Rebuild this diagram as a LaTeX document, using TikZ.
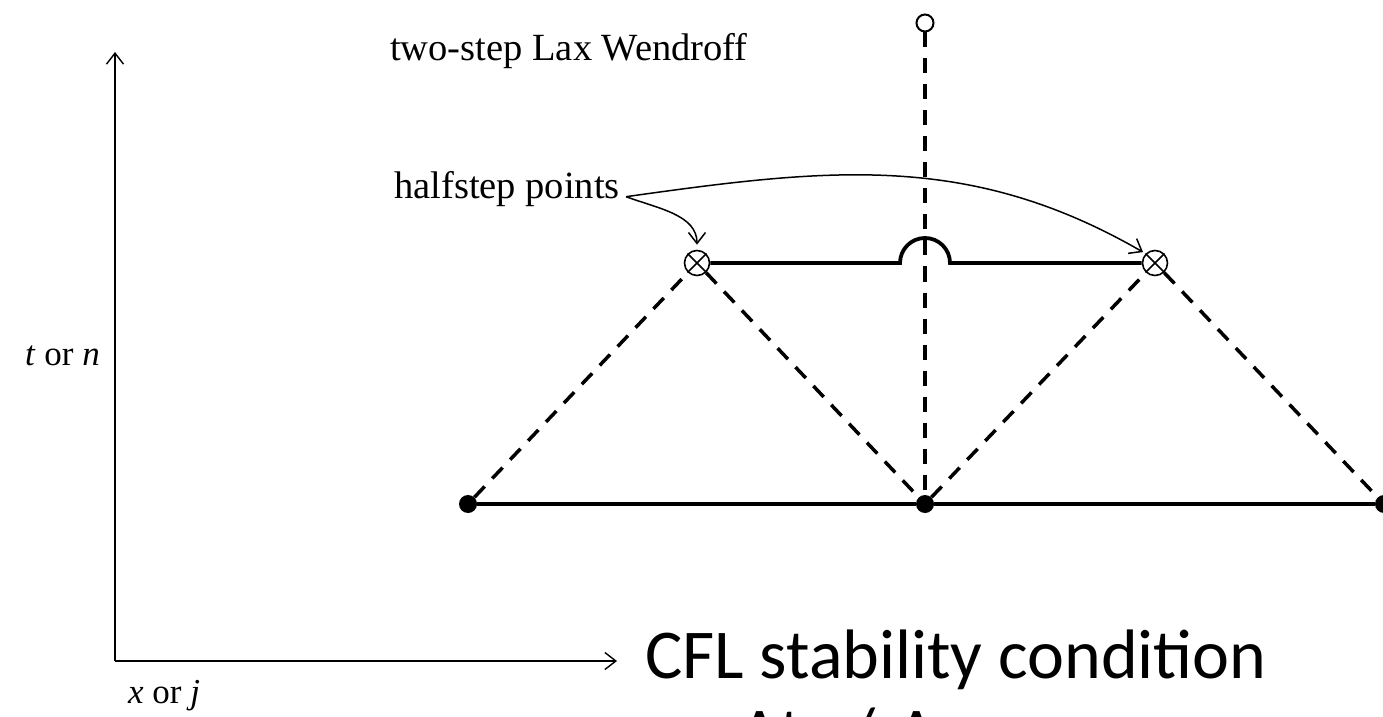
\documentclass[tikz,border=0pt]{standalone}
\usepackage{fontspec}
\setmainfont{Liberation Serif}
\newfontfamily\cflfont{Carlito}
\usetikzlibrary{arrows.meta}
\newcommand{\lblsize}{\fontsize{38.5}{46}\selectfont}
\newcommand{\axsize}{\fontsize{35}{42}\selectfont}
\newcommand{\cflsize}{\fontsize{70}{84}\selectfont}

\begin{document}
\begin{tikzpicture}[x=1pt,y=1pt,
		axis/.style={line width=1.4pt, -{Straight Barb[length=11pt,width=17pt]}},
		gridline/.style={line width=3.8pt},
		dashline/.style={line width=3.5pt, dash pattern=on 15pt off 11pt},
		fullpt/.style={circle, fill, inner sep=0pt, minimum size=18pt},
		halfpt/.style={circle, draw, line width=1.6pt, inner sep=0pt, minimum size=25pt},
		newpt/.style={circle, draw, line width=2pt, fill=white, inner sep=0pt, minimum size=17pt},
		pointer/.style={line width=1.5pt, -{Straight Barb[length=11pt,width=17pt]}},
		lbl/.style={font=\lblsize, inner sep=0pt},
		axlbl/.style={font=\axsize, inner sep=0pt},
		big/.style={font=\cflfont\cflsize, inner sep=0pt, anchor=base west}]
		\clip (0,0) rectangle (1383,716);
		% axes
		\coordinate (o) at (115,55);
		\coordinate (tend) at (115,664);
		\coordinate (xend) at (617,55);
		\draw[axis] (o) -- (tend);
		\draw[axis] (o) -- (xend);
		\node[axlbl, anchor=base east] (tlab) at (100,351) {\textit{t} or \textit{n}};
		\node[axlbl, anchor=base west] (xlab) at (128,13) {\textit{x} or \textit{j}};
		\node[lbl, anchor=base west] (title) at (390,655) {two-step Lax Wendroff};
		\node[lbl, anchor=base west] (hs) at (394,517) {halfstep points};
		% points
		\node[fullpt] (jm) at (468,212) {};
		\node[fullpt] (j0) at (925,212) {};
		\node[fullpt] (jp) at (1384,212) {};
		\node[halfpt] (hm) at (697,453) {};
		\node[halfpt] (hp) at (1155,453) {};
		\node[newpt] (np) at (925,693) {};
		\coordinate (hop) at (900,453);
		\draw[dashline] (jm) -- (hm);
		\draw[dashline] (hm) -- (j0);
		\draw[dashline] (j0) -- (hp);
		\draw[dashline] (hp) -- (jp);
		\draw[dashline] (np) -- (j0);
		\draw[gridline] (jm) -- (j0) -- (jp);
		\draw[gridline] (hm) -- (hop) arc[start angle=180, end angle=0, radius=25] -- (hp);
		\draw[line width=1.6pt] (hm.north west) -- (hm.south east) (hm.north east) -- (hm.south west);
		\draw[line width=1.6pt] (hp.north west) -- (hp.south east) (hp.north east) -- (hp.south west);
		\draw[pointer, shorten >=5pt] ([xshift=6pt]hs.mid east) to[out=-20, in=90] (hm);
		\draw[pointer, shorten >=3pt] ([xshift=6pt]hs.mid east) to[out=8, in=150] (hp.north west);
		% condition
		\node[big] (cfl) at (645,38) {CFL stability condition};
		\node[big] (cond) at (740,-40) {Δt \hspace{30pt}/\hspace{6pt} Δx};
	\end{tikzpicture}
\end{document}
